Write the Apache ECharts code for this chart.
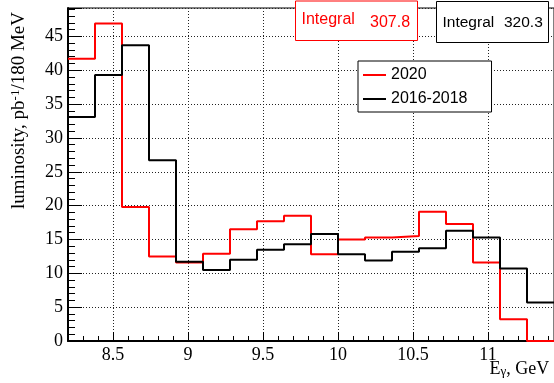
<!DOCTYPE html>
<html><head><meta charset="utf-8">
<script src="https://cdn.jsdelivr.net/npm/echarts@6/dist/echarts.min.js"></script>
<style>html,body{margin:0;padding:0;background:#fff}#c{width:554px;height:383px}</style>
</head><body><div id="c"></div>
<script>
// Bin edges (GeV), 180 MeV bins
const binEdges = [8.2, 8.38, 8.56, 8.74, 8.92, 9.10, 9.28, 9.46, 9.64, 9.82, 10.0, 10.18, 10.36, 10.54, 10.72, 10.90, 11.08, 11.26, 11.44];
// Luminosity per bin, pb^-1 / 180 MeV
const lumi2020 = [41.7, 46.9, 19.8, 12.5, 11.6, 12.9, 16.5, 17.7, 18.5, 12.8, 15.0, 15.3, 15.5, 19.1, 17.3, 11.6, 3.2, 0];
const lumi2016_2018 = [33.1, 39.3, 43.7, 26.7, 11.7, 10.5, 12.0, 13.5, 14.3, 15.8, 12.8, 11.9, 13.2, 13.7, 16.3, 15.3, 10.7, 5.7];
const seriesNames = ['2020', '2016-2018'];
const integralLabel = 'Integral';
const integral2020 = '307.8';
const integral2016_2018 = '320.3';
const yTitle = 'luminosity, pb{sup|-1}/180 MeV';
const xTitle = 'E{sub|γ}, GeV';

function stepData(vals) {
  return binEdges.map((e, i) => [e, vals[Math.min(i, vals.length - 1)]]);
}

const serif = 'Liberation Serif';
const sans = 'Liberation Sans';
const chart = echarts.init(document.getElementById('c'), null, {renderer: 'canvas'});
chart.setOption({
  animation: false,
  backgroundColor: '#fff',
  grid: {left: 68, top: 8, width: 487, height: 333, show: true, borderColor: '#000', borderWidth: 1, backgroundColor: 'transparent', containLabel: false},
  xAxis: {
    type: 'value', min: 8.2, max: 11.44, splitNumber: 6,
    axisLine: {show: true, onZero: false, lineStyle: {color: '#000', width: 2}},
    axisTick: {show: true, inside: true, length: 9, lineStyle: {color: '#000', width: 1}},
    minorTick: {show: true, splitNumber: 5, length: 5, lineStyle: {color: '#000', width: 1}},
    axisLabel: {showMinLabel: false, showMaxLabel: false, margin: 5, color: '#000', fontFamily: serif, fontSize: 18},
    splitLine: {show: true, lineStyle: {color: '#222', width: 1, type: [1, 2]}},
    minorSplitLine: {show: false}
  },
  yAxis: {
    type: 'value', min: 0, max: 49.2, splitNumber: 10,
    axisLine: {show: true, lineStyle: {color: '#000', width: 2}},
    axisTick: {show: true, inside: true, length: 14, lineStyle: {color: '#000', width: 1}},
    minorTick: {show: true, splitNumber: 5, length: 7, lineStyle: {color: '#000', width: 1}},
    axisLabel: {showMinLabel: true, showMaxLabel: false, margin: 5, color: '#000', fontFamily: serif, fontSize: 18},
    splitLine: {show: true, lineStyle: {color: '#222', width: 1, type: [1, 2]}}
  },
  legend: {
    orient: 'vertical', left: 358, top: 61,
    data: seriesNames,
    icon: 'rect', itemWidth: 23, itemHeight: 2, itemGap: 8,
    padding: [6, 24, 5, 5],
    backgroundColor: '#fff', borderColor: '#000', borderWidth: 1,
    textStyle: {fontFamily: sans, fontSize: 16, color: '#000', lineHeight: 16},
    selectedMode: false
  },
  series: [
    {name: seriesNames[0], type: 'line', step: 'end', symbol: 'none', data: stepData(lumi2020),
     lineStyle: {color: '#ff0000', width: 2}, itemStyle: {color: '#ff0000'}, z: 2},
    {name: seriesNames[1], type: 'line', step: 'end', symbol: 'none', data: stepData(lumi2016_2018),
     lineStyle: {color: '#000000', width: 2}, itemStyle: {color: '#000000'}, z: 3}
  ],
  graphic: [
    {type: 'rect', z: 100, shape: {x: 295.5, y: 1, width: 122, height: 39.5}, style: {fill: '#fff', stroke: '#ff0000', lineWidth: 1}},
    {type: 'text', z: 101, x: 301.5, y: 20, style: {text: integralLabel, fill: '#ff0000', font: '16px "Liberation Sans"', verticalAlign: 'middle', align: 'left'}},
    {type: 'text', z: 101, x: 370, y: 22.5, style: {text: integral2020, fill: '#ff0000', font: '16px "Liberation Sans"', verticalAlign: 'middle', align: 'left'}},
    {type: 'rect', z: 100, shape: {x: 436.5, y: 1.5, width: 112, height: 41}, style: {fill: '#fff', stroke: '#000', lineWidth: 1}},
    {type: 'text', z: 101, x: 442.5, y: 22.5, style: {text: integralLabel, fill: '#000', font: '15.5px "Liberation Sans"', verticalAlign: 'middle', align: 'left'}},
    {type: 'text', z: 101, x: 504, y: 22.5, style: {text: integral2016_2018, fill: '#000', font: '15.5px "Liberation Sans"', verticalAlign: 'middle', align: 'left'}},
    {type: 'text', z: 101, x: 19, y: 12, rotation: Math.PI / 2,
     style: {text: yTitle, fill: '#000', fontFamily: serif, fontSize: 19, align: 'right', verticalAlign: 'middle',
       rich: {sup: {fontFamily: serif, fontSize: 13, verticalAlign: 'top', lineHeight: 19, padding: [0, 0, 6, 0]}}}},
    {type: 'text', z: 101, x: 489.5, y: 369,
     style: {text: xTitle, fill: '#000', fontFamily: serif, fontSize: 18, align: 'left', verticalAlign: 'middle',
       rich: {sub: {fontFamily: serif, fontSize: 13, verticalAlign: 'bottom', lineHeight: 18, padding: [6, 0, 0, 0]}}}}
  ]
});
</script></body></html>
